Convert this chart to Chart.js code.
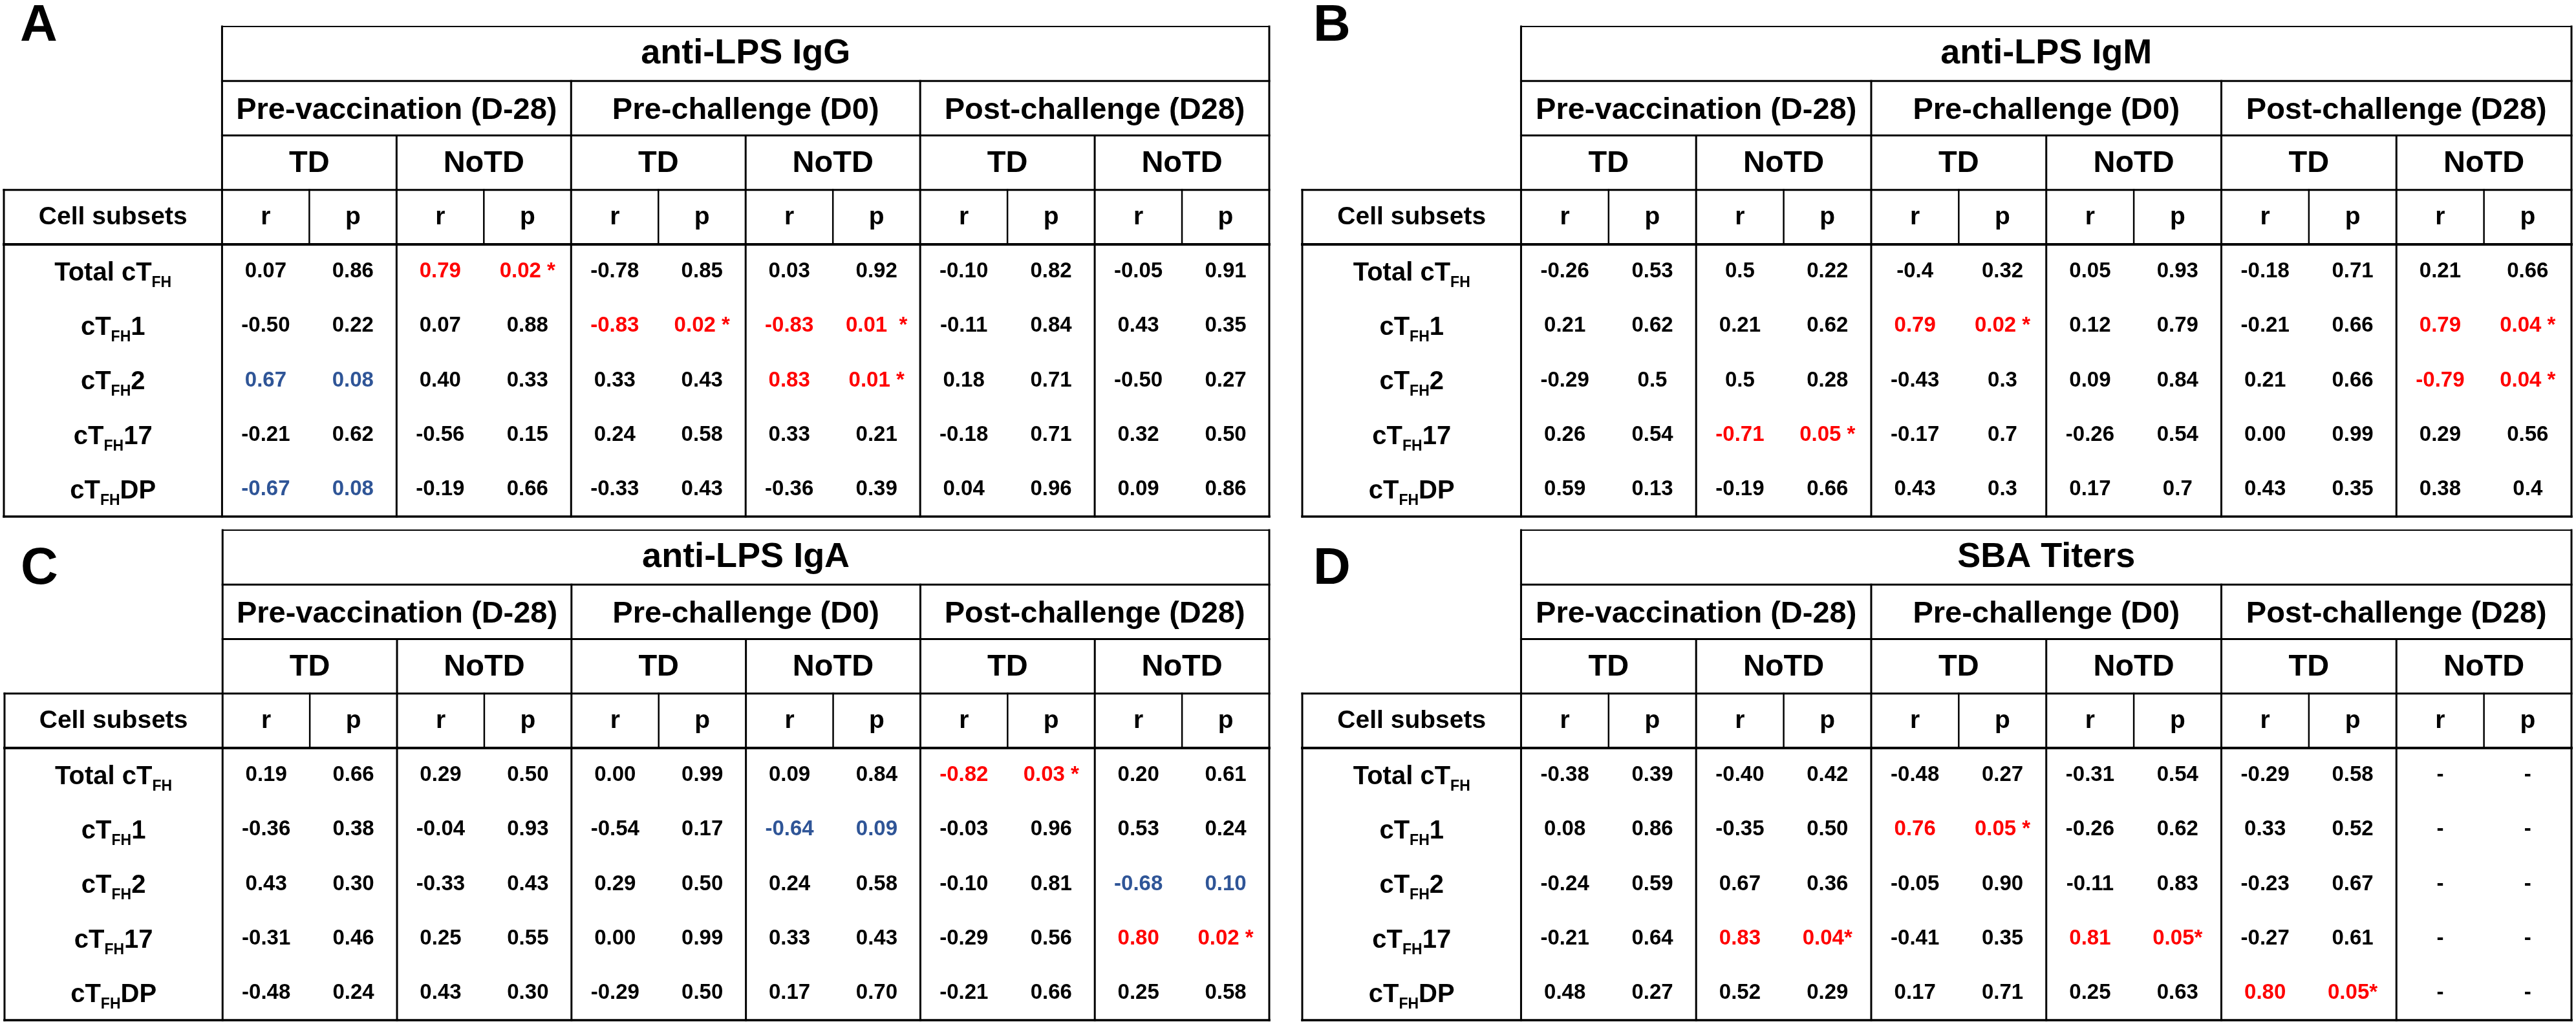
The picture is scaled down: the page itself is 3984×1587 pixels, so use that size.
<!DOCTYPE html>
<html>
<head>
<meta charset="utf-8">
<script src="https://cdn.jsdelivr.net/npm/chart.js@4.4.1/dist/chart.umd.min.js"></script>
<style>
  html, body { margin: 0; padding: 0; background: #fff; }
  #page { position: relative; width: 3984px; height: 1587px; overflow: hidden; }
  .panel { position: absolute; }
</style>
</head>
<body>
<div id="page"></div>
<script>
// --- datos de la figura ---
const panelLetters = ['A', 'B', 'C', 'D'];
const panelTitles = ['anti-LPS IgG', 'anti-LPS IgM', 'anti-LPS IgA', 'SBA Titers'];
const periods = ['Pre-vaccination (D-28)', 'Pre-challenge (D0)', 'Post-challenge (D28)'];
const groups = ['TD', 'NoTD'];
const stats = ['r', 'p'];
const headerLabel = 'Cell subsets';
// [texto, subíndice, sufijo]
const cellSubsets = [
  ['Total cT', 'FH', ''],
  ['cT', 'FH', '1'],
  ['cT', 'FH', '2'],
  ['cT', 'FH', '17'],
  ['cT', 'FH', 'DP']
];

// columnas: Pre-vac TD r,p | NoTD r,p | Pre-ch TD r,p | NoTD r,p | Post-ch TD r,p | NoTD r,p
const igG = [
  ['0.07', '0.86', '0.79', '0.02 *', '-0.78', '0.85', '0.03', '0.92', '-0.10', '0.82', '-0.05', '0.91'],
  ['-0.50', '0.22', '0.07', '0.88', '-0.83', '0.02 *', '-0.83', '0.01  *', '-0.11', '0.84', '0.43', '0.35'],
  ['0.67', '0.08', '0.40', '0.33', '0.33', '0.43', '0.83', '0.01 *', '0.18', '0.71', '-0.50', '0.27'],
  ['-0.21', '0.62', '-0.56', '0.15', '0.24', '0.58', '0.33', '0.21', '-0.18', '0.71', '0.32', '0.50'],
  ['-0.67', '0.08', '-0.19', '0.66', '-0.33', '0.43', '-0.36', '0.39', '0.04', '0.96', '0.09', '0.86']
];
const igM = [
  ['-0.26', '0.53', '0.5', '0.22', '-0.4', '0.32', '0.05', '0.93', '-0.18', '0.71', '0.21', '0.66'],
  ['0.21', '0.62', '0.21', '0.62', '0.79', '0.02 *', '0.12', '0.79', '-0.21', '0.66', '0.79', '0.04 *'],
  ['-0.29', '0.5', '0.5', '0.28', '-0.43', '0.3', '0.09', '0.84', '0.21', '0.66', '-0.79', '0.04 *'],
  ['0.26', '0.54', '-0.71', '0.05 *', '-0.17', '0.7', '-0.26', '0.54', '0.00', '0.99', '0.29', '0.56'],
  ['0.59', '0.13', '-0.19', '0.66', '0.43', '0.3', '0.17', '0.7', '0.43', '0.35', '0.38', '0.4']
];
const igA = [
  ['0.19', '0.66', '0.29', '0.50', '0.00', '0.99', '0.09', '0.84', '-0.82', '0.03 *', '0.20', '0.61'],
  ['-0.36', '0.38', '-0.04', '0.93', '-0.54', '0.17', '-0.64', '0.09', '-0.03', '0.96', '0.53', '0.24'],
  ['0.43', '0.30', '-0.33', '0.43', '0.29', '0.50', '0.24', '0.58', '-0.10', '0.81', '-0.68', '0.10'],
  ['-0.31', '0.46', '0.25', '0.55', '0.00', '0.99', '0.33', '0.43', '-0.29', '0.56', '0.80', '0.02 *'],
  ['-0.48', '0.24', '0.43', '0.30', '-0.29', '0.50', '0.17', '0.70', '-0.21', '0.66', '0.25', '0.58']
];
const sba = [
  ['-0.38', '0.39', '-0.40', '0.42', '-0.48', '0.27', '-0.31', '0.54', '-0.29', '0.58', '-', '-'],
  ['0.08', '0.86', '-0.35', '0.50', '0.76', '0.05 *', '-0.26', '0.62', '0.33', '0.52', '-', '-'],
  ['-0.24', '0.59', '0.67', '0.36', '-0.05', '0.90', '-0.11', '0.83', '-0.23', '0.67', '-', '-'],
  ['-0.21', '0.64', '0.83', '0.04*', '-0.41', '0.35', '0.81', '0.05*', '-0.27', '0.61', '-', '-'],
  ['0.48', '0.27', '0.52', '0.29', '0.17', '0.71', '0.25', '0.63', '0.80', '0.05*', '-', '-']
];
const panelData = [igG, igM, igA, sba];

// --- maquetación ---
const FONT = '"Liberation Sans", Arial, sans-serif';
const RED = '#ff0000';
const BLUE = '#2f5597';
const LABEL_SPAN = 2.5;   // ancho de la columna "Cell subsets" en unidades de columna
const HEAD_ROWS = 4;
const layouts = [
  { left: 0, top: 0, w: 1992, h: 810, pad: { left: 6, top: 41, right: 29, bottom: 11 }, letter: [31, 63] },
  { left: 1992, top: 0, w: 1992, h: 810, pad: { left: 22, top: 41, right: 7, bottom: 11 }, letter: [39, 63] },
  { left: 0, top: 810, w: 1992, h: 777, pad: { left: 7, top: 10, right: 29, bottom: 9 }, letter: [32, 93] },
  { left: 1992, top: 810, w: 1992, h: 777, pad: { left: 22, top: 10, right: 7, bottom: 9 }, letter: [39, 93] }
];

// color según la p del par (r, p)
function pairColor(p) {
  if (p.indexOf('*') >= 0) return RED;
  const v = parseFloat(p);
  if (!isNaN(v) && v <= 0.10) return BLUE;
  return '#000';
}

const tablePlugin = {
  id: 'corrTable',
  afterDatasetsDraw(chart, args, opts) {
    const { ctx, scales: { x, y } } = chart;
    const X = v => x.getPixelForValue(v);
    const Y = v => y.getPixelForValue(v);
    const nRows = opts.rows.length;
    const last = HEAD_ROWS + nRows;

    ctx.save();
    ctx.strokeStyle = '#000';
    ctx.lineCap = 'square';
    const hline = (r, c0, c1, w) => {
      ctx.lineWidth = w;
      ctx.beginPath(); ctx.moveTo(X(c0), Y(r)); ctx.lineTo(X(c1), Y(r)); ctx.stroke();
    };
    const vline = (c, r0, r1, w) => {
      ctx.lineWidth = w;
      ctx.beginPath(); ctx.moveTo(X(c), Y(r0)); ctx.lineTo(X(c), Y(r1)); ctx.stroke();
    };
    hline(0, 0, 12, 2);
    hline(1, 0, 12, 3);
    hline(2, 0, 12, 3);
    hline(3, -LABEL_SPAN, 12, 3);
    hline(4, -LABEL_SPAN, 12, 4);
    hline(last, -LABEL_SPAN, 12, 3.5);
    vline(-LABEL_SPAN, 3, last, 3);
    vline(0, 0, last, 3);
    vline(12, 0, last, 3);
    [4, 8].forEach(c => vline(c, 1, last, 3));
    [2, 6, 10].forEach(c => vline(c, 2, last, 3));
    for (let c = 1; c < 12; c += 2) vline(c, 3, 4, 2.5);

    // encabezados
    ctx.fillStyle = '#000';
    ctx.textAlign = 'center';
    ctx.textBaseline = 'middle';
    ctx.font = 'bold 54px ' + FONT;
    ctx.fillText(opts.title, X(6), Y(0.5));
    ctx.font = 'bold 47px ' + FONT;
    periods.forEach((t, i) => ctx.fillText(t, X(i * 4 + 2), Y(1.55)));
    periods.forEach((t, i) => groups.forEach((g, j) => ctx.fillText(g, X(i * 4 + j * 2 + 1), Y(2.52))));
    ctx.font = 'bold 39px ' + FONT;
    ctx.fillText(headerLabel, X(-LABEL_SPAN / 2), Y(3.5));
    for (let c = 0; c < 12; c++) ctx.fillText(stats[c % 2], X(c + 0.5), Y(3.5));

    // etiquetas de fila con subíndice
    cellSubsets.forEach((lab, i) => {
      const main = 'bold 40px ' + FONT, sub = 'bold 23px ' + FONT;
      ctx.font = main; const w0 = ctx.measureText(lab[0]).width, w2 = ctx.measureText(lab[2]).width;
      ctx.font = sub; const w1 = ctx.measureText(lab[1]).width;
      let px = X(-LABEL_SPAN / 2) - (w0 + w1 + w2) / 2;
      const base = Y(HEAD_ROWS + i + 0.5) + 14;
      ctx.textAlign = 'left';
      ctx.textBaseline = 'alphabetic';
      ctx.font = main; ctx.fillText(lab[0], px, base); px += w0;
      ctx.font = sub; ctx.fillText(lab[1], px, base + 10); px += w1;
      ctx.font = main; ctx.fillText(lab[2], px, base);
    });

    // valores (posiciones tomadas de los puntos del dataset)
    const meta = chart.getDatasetMeta(0);
    const pts = chart.data.datasets[0].data;
    ctx.textAlign = 'center';
    ctx.textBaseline = 'middle';
    ctx.font = 'bold 33px ' + FONT;
    meta.data.forEach((el, k) => {
      const d = pts[k];
      ctx.fillStyle = d.color;
      ctx.fillText(d.label, el.x, el.y);
    });

    // letra del panel
    ctx.fillStyle = '#000';
    ctx.textAlign = 'left';
    ctx.textBaseline = 'alphabetic';
    ctx.font = 'bold 80px ' + FONT;
    ctx.fillText(opts.letter, opts.letterPos[0], opts.letterPos[1]);
    ctx.restore();
  }
};

const page = document.getElementById('page');
panelData.forEach((rows, idx) => {
  const L = layouts[idx];
  const box = document.createElement('div');
  box.className = 'panel';
  box.style.left = L.left + 'px';
  box.style.top = L.top + 'px';
  box.style.width = L.w + 'px';
  box.style.height = L.h + 'px';
  const cv = document.createElement('canvas');
  cv.width = L.w; cv.height = L.h;
  cv.style.width = L.w + 'px'; cv.style.height = L.h + 'px';
  box.appendChild(cv);
  page.appendChild(box);

  const points = [];
  rows.forEach((row, r) => {
    row.forEach((val, c) => {
      const p = row[c - (c % 2) + 1];
      points.push({ x: c + 0.5, y: HEAD_ROWS + r + 0.5, label: val, color: pairColor(p) });
    });
  });

  new Chart(cv, {
    type: 'scatter',
    data: { datasets: [{ data: points, pointRadius: 0, pointHoverRadius: 0 }] },
    options: {
      responsive: false,
      devicePixelRatio: 1,
      animation: false,
      events: [],
      layout: { padding: L.pad },
      scales: {
        x: { type: 'linear', min: -LABEL_SPAN, max: 12, display: false },
        y: { type: 'linear', min: 0, max: HEAD_ROWS + rows.length, reverse: true, display: false }
      },
      plugins: {
        legend: { display: false },
        tooltip: { enabled: false },
        corrTable: { rows, title: panelTitles[idx], letter: panelLetters[idx], letterPos: L.letter }
      }
    },
    plugins: [tablePlugin]
  });
});
</script>
</body>
</html>
